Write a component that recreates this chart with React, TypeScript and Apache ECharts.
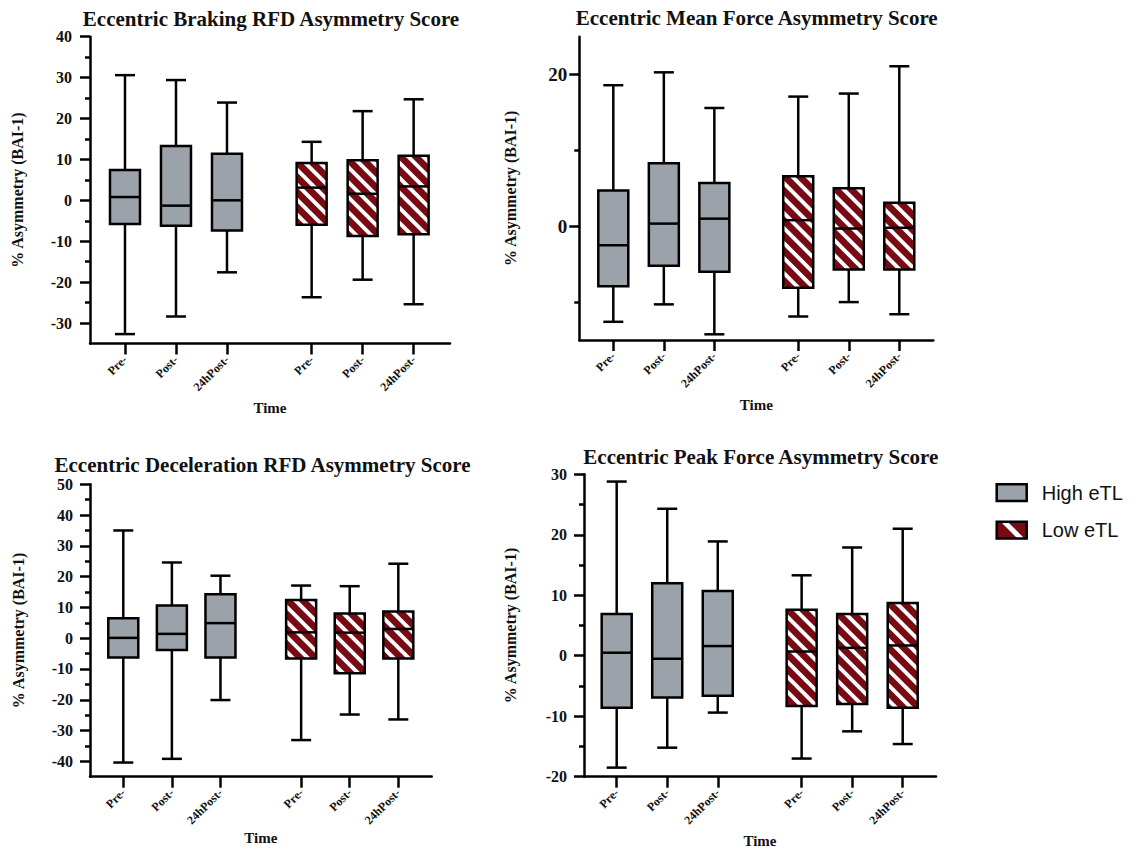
import React, { useEffect, useRef } from 'react';
import * as echarts from 'echarts';

// ---------------- data ----------------
const timeLabels = ['Pre-', 'Post-', '24hPost-', 'Pre-', 'Post-', '24hPost-'];
const boxGroup = [0, 0, 0, 1, 1, 1]; // 0 = High eTL, 1 = Low eTL
const legendNames = ['High eTL', 'Low eTL'];
const panelTitles = [
  'Eccentric Braking RFD Asymmetry Score',
  'Eccentric Mean Force Asymmetry Score',
  'Eccentric Deceleration RFD Asymmetry Score',
  'Eccentric Peak Force Asymmetry Score',
];
const xAxisName = 'Time';
const yAxisName = '% Asymmetry (BAI-1)';

// each box: [min, Q1, median, Q3, max]
const brakingBoxes = [
  [-32.7, -5.8, 0.8, 7.4, 30.6],
  [-28.4, -6.2, -1.3, 13.3, 29.4],
  [-17.6, -7.4, 0.0, 11.4, 23.9],
  [-23.7, -6.0, 3.1, 9.1, 14.3],
  [-19.4, -8.7, 1.6, 9.8, 21.8],
  [-25.4, -8.3, 3.4, 10.9, 24.7],
];
const meanForceBoxes = [
  [-12.6, -7.9, -2.5, 4.7, 18.6],
  [-10.3, -5.2, 0.35, 8.3, 20.3],
  [-14.25, -6.0, 1.0, 5.7, 15.6],
  [-11.9, -8.1, 0.8, 6.6, 17.1],
  [-10.0, -5.7, -0.3, 5.0, 17.5],
  [-11.6, -5.7, -0.2, 3.1, 21.1],
];
const decelBoxes = [
  [-40.4, -6.3, 0.1, 6.5, 35.0],
  [-39.2, -3.8, 1.4, 10.6, 24.6],
  [-20.1, -6.3, 4.9, 14.3, 20.3],
  [-33.1, -6.6, 1.9, 12.4, 17.1],
  [-24.8, -11.4, 1.8, 8.0, 16.9],
  [-26.4, -6.6, 3.0, 8.7, 24.2],
];
const peakForceBoxes = [
  [-18.5, -8.6, 0.5, 6.9, 28.8],
  [-15.2, -6.9, -0.5, 12.0, 24.3],
  [-9.4, -6.6, 1.6, 10.7, 18.9],
  [-17.0, -8.3, 0.7, 7.6, 13.3],
  [-12.5, -8.0, 1.3, 6.9, 17.9],
  [-14.6, -8.6, 1.7, 8.7, 21.0],
];

// tick values
const brakingMajor = [-30, -20, -10, 0, 10, 20, 30, 40];
const brakingMinor = [-25, -15, -5, 5, 15, 25, 35];
const meanForceMajor = [0, 20];
const meanForceMinor = [-10, 10];
const decelMajor = [-40, -30, -20, -10, 0, 10, 20, 30, 40, 50];
const decelMinor = [-35, -25, -15, -5, 5, 15, 25, 35, 45];
const peakForceMajor = [-20, -10, 0, 10, 20, 30];
const peakForceMinor = [-15, -5, 5, 15, 25];

// ---------------- layout ----------------
const SLOTS = [1, 2, 3, 4.66, 5.66, 6.66];
const SERIF = "'Liberation Serif', 'Times New Roman', serif";
const SANS = "'Liberation Sans', Arial, Helvetica, sans-serif";
const GRAY = '#9ba2aa';
const RED = '#780a14';
const LW = 2.5;

const panels = [
  {
    boxes: brakingBoxes, major: brakingMajor, minor: brakingMinor, yMin: -35, yMax: 40,
    grid: { left: 90, top: 36.7, width: 360, height: 306.8 }, xMin: 0.314, xMax: 7.373,
    titleX: 271, titleY: 19, labelMargin: 18, labelSize: 16, yNameGap: 65, xNameGap: 57,
  },
  {
    boxes: meanForceBoxes, major: meanForceMajor, minor: meanForceMinor, yMin: -15, yMax: 25,
    grid: { left: 579.3, top: 36.7, width: 354, height: 303.3 }, xMin: 0.327, xMax: 7.333,
    titleX: 756.7, titleY: 18, labelMargin: 12, labelSize: 19, yNameGap: 61, xNameGap: 57,
  },
  {
    boxes: decelBoxes, major: decelMajor, minor: decelMinor, yMin: -45, yMax: 50,
    grid: { left: 90, top: 484.3, width: 341.7, height: 292.4 }, xMin: 0.315, xMax: 7.347,
    titleX: 262.5, titleY: 465.3, labelMargin: 17, labelSize: 16, yNameGap: 64, xNameGap: 54,
  },
  {
    boxes: peakForceBoxes, major: peakForceMajor, minor: peakForceMinor, yMin: -20, yMax: 30,
    grid: { left: 584, top: 474.3, width: 352, height: 302.4 }, xMin: 0.353, xMax: 7.319,
    titleX: 760.8, titleY: 457, labelMargin: 17, labelSize: 16, yNameGap: 66, xNameGap: 57,
  },
];

// ---------------- hatch helpers ----------------
type Pt = [number, number];
function clipHalf(poly: Pt[], a: number, b: number, c: number): Pt[] {
  const out: Pt[] = [];
  for (let i = 0; i < poly.length; i++) {
    const p = poly[i];
    const q = poly[(i + 1) % poly.length];
    const fp = a * p[0] + b * p[1] + c;
    const fq = a * q[0] + b * q[1] + c;
    if (fp >= 0) out.push(p);
    if ((fp >= 0) !== (fq >= 0)) {
      const t = fp / (fp - fq);
      out.push([p[0] + t * (q[0] - p[0]), p[1] + t * (q[1] - p[1])]);
    }
  }
  return out;
}
function stripes(x0: number, y0: number, x1: number, y1: number, period: number, width: number, phase: number): Pt[][] {
  const rect: Pt[] = [[x0, y0], [x1, y0], [x1, y1], [x0, y1]];
  const res: Pt[][] = [];
  const dMin = x0 - y1;
  const dMax = x1 - y0;
  let k = Math.floor((dMin - phase) / period) - 1;
  for (; k * period + phase < dMax; k++) {
    const lo = k * period + phase;
    const hi = lo + width;
    let p = clipHalf(rect, 1, -1, -lo);
    p = clipHalf(p, -1, 1, hi);
    if (p.length >= 3) res.push(p);
  }
  return res;
}

function renderBox(params: any, api: any) {
  const x = api.value(0);
  const lo = api.coord([x, api.value(1)]);
  const cx = lo[0];
  const yLo = lo[1];
  const yQ1 = api.coord([x, api.value(2)])[1];
  const yMed = api.coord([x, api.value(3)])[1];
  const yQ3 = api.coord([x, api.value(4)])[1];
  const yHi = api.coord([x, api.value(5)])[1];
  const g = api.value(6);
  const half = 15;
  const cap = 10;
  const ls = { stroke: '#000', lineWidth: LW };
  const children: any[] = [
    { type: 'line', shape: { x1: cx, y1: yHi, x2: cx, y2: yQ3 }, style: ls },
    { type: 'line', shape: { x1: cx, y1: yQ1, x2: cx, y2: yLo }, style: ls },
    { type: 'line', shape: { x1: cx - cap, y1: yHi, x2: cx + cap, y2: yHi }, style: ls },
    { type: 'line', shape: { x1: cx - cap, y1: yLo, x2: cx + cap, y2: yLo }, style: ls },
    { type: 'rect', shape: { x: cx - half, y: yQ3, width: half * 2, height: yQ1 - yQ3 }, style: { fill: g ? RED : GRAY } },
  ];
  if (g) {
    const x0 = cx - half, x1 = cx + half;
    stripes(x0, yQ3, x1, yQ1, 15, 5.5, x0 - yQ3 + 6).forEach((pts) => {
      children.push({ type: 'polygon', shape: { points: pts }, style: { fill: '#ffffff' } });
    });
  }
  children.push({ type: 'line', shape: { x1: cx - half, y1: yMed, x2: cx + half, y2: yMed }, style: ls });
  children.push({
    type: 'rect',
    shape: { x: cx - half, y: yQ3, width: half * 2, height: yQ1 - yQ3 },
    style: { fill: 'none', stroke: '#000', lineWidth: LW },
  });
  return { type: 'group', children };
}

function labelFor(v: number) {
  const i = SLOTS.findIndex((s) => Math.abs(s - v) < 1e-6);
  return i >= 0 ? timeLabels[i] : '';
}

export default function App() {
  const ref = useRef<HTMLDivElement>(null);
  useEffect(() => {
    if (!ref.current) return;
    const chart = echarts.init(ref.current, null, { renderer: 'svg' });
    const axisLineStyle = { color: '#000', width: LW };
    const grid = panels.map((p) => ({ ...p.grid, containLabel: false }));
    const xAxis = panels.map((p, i) => ({
      type: 'value',
      gridIndex: i,
      min: p.xMin,
      max: p.xMax,
      axisLine: { show: true, onZero: false, lineStyle: axisLineStyle },
      axisTick: { show: true, customValues: SLOTS, length: 11, lineStyle: axisLineStyle },
      axisLabel: {
        customValues: SLOTS,
        formatter: (v: number) => labelFor(v),
        rotate: 45,
        margin: 14,
        fontFamily: SERIF,
        fontWeight: 'bold',
        fontSize: 12,
        color: '#111',
      },
      splitLine: { show: false },
      name: xAxisName,
      nameLocation: 'middle',
      nameGap: p.xNameGap,
      nameTextStyle: { fontFamily: SERIF, fontWeight: 'bold', fontSize: 15, color: '#111' },
    }));
    const yAxis: any[] = [];
    panels.forEach((p, i) => {
      yAxis.push({
        type: 'value',
        gridIndex: i,
        position: 'left',
        min: p.yMin,
        max: p.yMax,
        axisLine: { show: true, onZero: false, lineStyle: axisLineStyle },
        axisTick: { show: true, customValues: p.major, length: 10, lineStyle: axisLineStyle },
        axisLabel: {
          customValues: p.major,
          margin: p.labelMargin,
          fontFamily: SERIF,
          fontWeight: 'bold',
          fontSize: p.labelSize,
          color: '#111',
        },
        splitLine: { show: false },
        name: yAxisName,
        nameLocation: 'middle',
        nameGap: p.yNameGap,
        nameTextStyle: { fontFamily: SERIF, fontWeight: 'bold', fontSize: 16, color: '#111' },
      });
      yAxis.push({
        type: 'value',
        gridIndex: i,
        position: 'left',
        min: p.yMin,
        max: p.yMax,
        axisLine: { show: false },
        axisTick: { show: true, customValues: p.minor, length: 5, lineStyle: axisLineStyle },
        axisLabel: { show: false },
        splitLine: { show: false },
      });
    });
    const series = panels.map((p, i) => ({
      type: 'custom',
      xAxisIndex: i,
      yAxisIndex: i * 2,
      renderItem: renderBox,
      clip: false,
      encode: { x: 0, y: [1, 2, 3, 4, 5] },
      data: p.boxes.map((b, j) => [SLOTS[j], ...b, boxGroup[j]]),
    }));

    const graphic: any[] = panels.map((p, i) => ({
      type: 'text',
      x: p.titleX,
      y: p.titleY,
      style: {
        text: panelTitles[i],
        fontFamily: SERIF,
        fontWeight: 'bold',
        fontSize: 21,
        fill: '#111',
        align: 'center',
        verticalAlign: 'middle',
      },
    }));
    // legend
    const lx = 996.7, lw = 30, lh = 16.7;
    const ly = [484.3, 521.7];
    graphic.push({ type: 'rect', shape: { x: lx, y: ly[0], width: lw, height: lh }, style: { fill: GRAY, stroke: '#000', lineWidth: LW } });
    graphic.push({ type: 'rect', shape: { x: lx, y: ly[1], width: lw, height: lh }, style: { fill: RED } });
    stripes(lx, ly[1], lx + lw, ly[1] + lh, 30, 7, 479).forEach((pts) => {
      graphic.push({ type: 'polygon', shape: { points: pts }, style: { fill: '#ffffff' } });
    });
    graphic.push({ type: 'rect', shape: { x: lx, y: ly[1], width: lw, height: lh }, style: { fill: 'none', stroke: '#000', lineWidth: LW } });
    legendNames.forEach((n, i) => {
      graphic.push({
        type: 'text',
        x: 1041.7,
        y: ly[i] + lh / 2,
        style: { text: n, fontFamily: SANS, fontSize: 20, fill: '#111', align: 'left', verticalAlign: 'middle' },
      });
    });

    chart.setOption({
      animation: false,
      backgroundColor: '#ffffff',
      grid,
      xAxis,
      yAxis,
      series,
      graphic,
    });
    return () => chart.dispose();
  }, []);
  return <div ref={ref} style={{ position: 'absolute', left: 0, top: 0, width: 1133, height: 850 }} />;
}
